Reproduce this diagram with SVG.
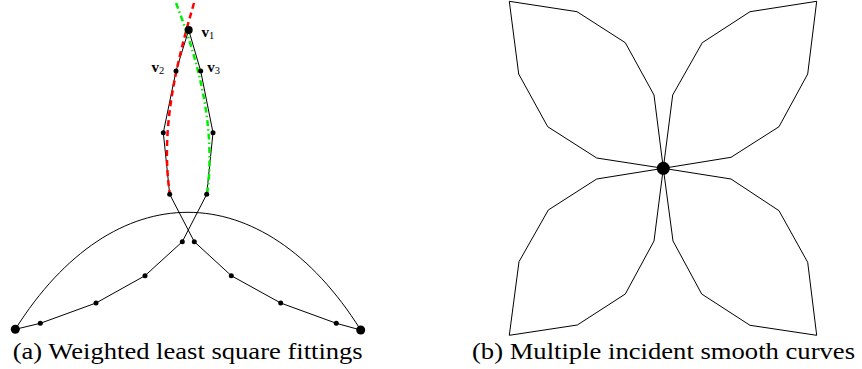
<svg xmlns="http://www.w3.org/2000/svg" width="862" height="369" viewBox="0 0 862 369">
<style>
.ln{fill:none;stroke:#000;stroke-width:1;stroke-linejoin:round}
.dot{fill:#000}
.red{fill:none;stroke:#ff0000;stroke-width:2.5;stroke-dasharray:6 4}
.grn{fill:none;stroke:#00ee00;stroke-width:2.5;stroke-dasharray:6 3 1.5 3}
.lbl{font-family:"Liberation Serif","Times New Roman",serif;font-weight:bold;font-size:15px;fill:#000}
.sub{font-family:"Liberation Serif","Times New Roman",serif;font-weight:normal;font-size:10.5px}
.cap{font-family:"Liberation Serif","Times New Roman",serif;font-size:23.5px;fill:#000}
</style>
<rect width="862" height="369" fill="#fff"/>
<g id="connectors">
  <path class="ln" d="M15.3,329.3 C113.5,173.2 262.5,173.2 360.7,330"/>
  <polyline class="ln" points="188.7,30 176,71 163.3,132.7 169.7,194.3 194.3,241.7 231.3,275.7 280.7,303 336.3,323.3 360.7,330"/>
  <polyline class="ln" points="188.7,30 200.7,71 213,132.7 206.7,194.3 182.3,241.7 145,275.7 96,303 40.3,323.3 15.3,329.3"/>
  <path class="red" d="M194,3 C176,65 160,130 170,195"/>
  <path class="grn" d="M176,3 C200,65 216,130 207,195"/>
  <polygon class="ln" points="663.3,168.3 654,95 625.3,42.7 577,11.7 509.3,1.3 518.7,74 547.7,126.7 596.7,158"/>
  <polygon class="ln" points="663.3,168.3 672.7,95 702.3,42.7 750,11.7 816.7,1.3 807.7,74 779,126.7 731,157.3"/>
  <polygon class="ln" points="663.3,168.3 596.7,179 548.3,210 519,261.7 509.3,335.3 577.3,325 625.3,294 654,241"/>
  <polygon class="ln" points="663.3,168.3 731,179 779,210.7 807.7,262.3 816.7,335.3 750,325.3 701.7,294 673,241"/>
</g>
<g id="v1"><circle class="dot" cx="188.7" cy="30" r="4"/><text class="lbl" x="201.5" y="37.3">v<tspan class="sub" dy="2">1</tspan></text></g>
<g id="v2"><circle class="dot" cx="176" cy="71" r="2.5"/><text class="lbl" x="151.5" y="72.3">v<tspan class="sub" dy="2">2</tspan></text></g>
<g id="v3"><circle class="dot" cx="200.7" cy="71" r="2.5"/><text class="lbl" x="207.3" y="72.3">v<tspan class="sub" dy="2">3</tspan></text></g>
<g id="pL3"><circle class="dot" cx="163.3" cy="132.7" r="2.5"/></g>
<g id="pR3"><circle class="dot" cx="213" cy="132.7" r="2.5"/></g>
<g id="pL4"><circle class="dot" cx="169.7" cy="194.3" r="2.5"/></g>
<g id="pR4"><circle class="dot" cx="206.7" cy="194.3" r="2.5"/></g>
<g id="pL5"><circle class="dot" cx="182.3" cy="241.7" r="2.5"/></g>
<g id="pR5"><circle class="dot" cx="194.3" cy="241.7" r="2.5"/></g>
<g id="pL6"><circle class="dot" cx="145" cy="275.7" r="2.5"/></g>
<g id="pR6"><circle class="dot" cx="231.3" cy="275.7" r="2.5"/></g>
<g id="pL7"><circle class="dot" cx="96" cy="303" r="2.5"/></g>
<g id="pR7"><circle class="dot" cx="280.7" cy="303" r="2.5"/></g>
<g id="pL8"><circle class="dot" cx="40.3" cy="323.3" r="2.5"/></g>
<g id="pR8"><circle class="dot" cx="336.3" cy="323.3" r="2.5"/></g>
<g id="endL"><circle class="dot" cx="15.3" cy="329.3" r="4.5"/></g>
<g id="endR"><circle class="dot" cx="360.7" cy="330" r="4.5"/></g>
<g id="center"><circle class="dot" cx="663.3" cy="168.3" r="6.5"/></g>
<text class="cap" x="12.7" y="358.5" textLength="350" lengthAdjust="spacingAndGlyphs">(a)  Weighted least square fittings</text>
<text class="cap" x="472" y="358.5" textLength="383" lengthAdjust="spacingAndGlyphs">(b)  Multiple incident smooth curves</text>
</svg>
